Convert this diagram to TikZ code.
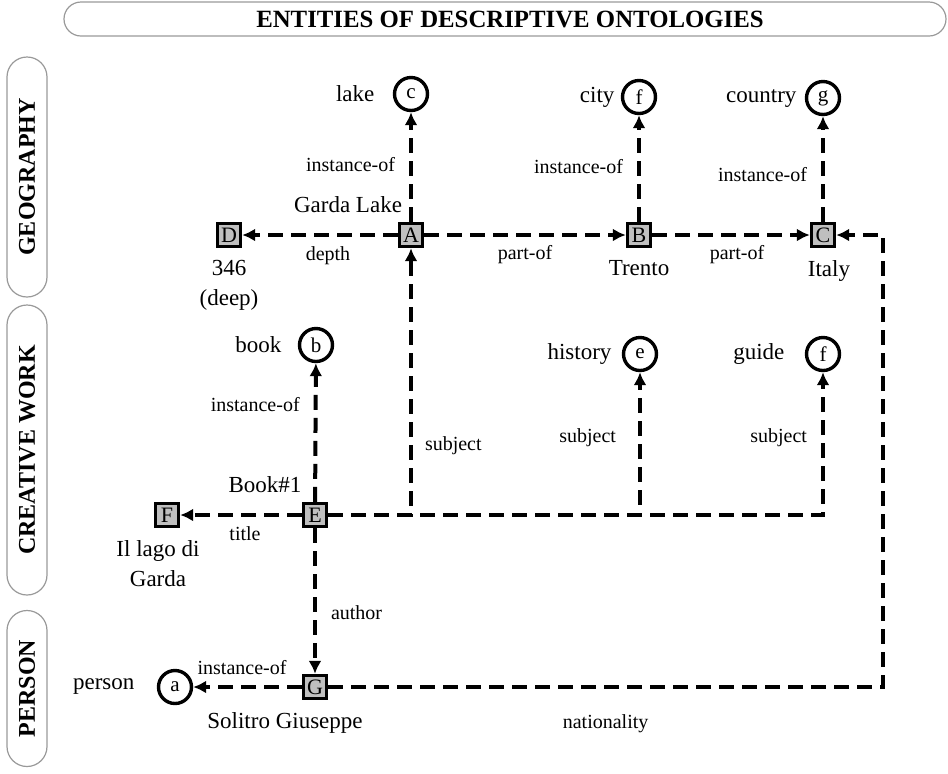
\documentclass[tikz,border=0pt]{standalone}
\usepackage{fontspec}
\setmainfont{Liberation Serif}
\usetikzlibrary{%
        arrows.meta,
        positioning,
    }
\tikzset{%
    entity/.style={%
        draw,
        line width=1.7pt,
        fill=gray!50,
        minimum size=11.5pt,
        inner sep=0pt,
        font=\fontsize{11}{11}\selectfont,
    },
    concept/.style={%
        draw,
        circle,
        line width=1.7pt,
        minimum size=16.5pt,
        inner sep=0pt,
        font=\fontsize{10.5}{10.5}\selectfont,
    },
    entname/.style={%
        align=center,
        inner sep=1pt,
        font=\fontsize{11.5}{15}\selectfont,
    },
    relname/.style={%
        inner sep=1pt,
        font=\fontsize{10}{10}\selectfont,
    },
    rel/.style={%
        line width=2pt,
        dash pattern=on 7.5pt off 4pt,
        -{Latex[length=6.5pt, width=6.5pt]},
    },
    lane/.style={%
        draw=gray!80,
        line width=0.6pt,
        rotate=90,
        rounded corners=10pt,
        minimum height=20pt,
        font=\bfseries\fontsize{12}{12}\selectfont,
    },
}

\begin{document}
\begin{tikzpicture}[x=0.5pt, y=-0.5pt]

    \useasboundingbox (0, 0) rectangle (948, 773);

    %%%%%%%%%%
    % Lanes  %
    %%%%%%%%%%
    \node[%
        draw=gray!80,
        line width=0.6pt,
        rounded corners=8.5pt,
        minimum width=441pt,
        minimum height=17pt,
        font=\bfseries\fontsize{12.4}{12.4}\selectfont,
    ] (banner) at (505, 19) {};
    \node[font=\bfseries\fontsize{12.4}{12.4}\selectfont]
        (banner-title) at (510, 19) {ENTITIES OF DESCRIPTIVE ONTOLOGIES};

    \node[lane, minimum width=120pt] (geography) at (27, 177) {GEOGRAPHY};
    \node[lane, minimum width=145pt] (creative) at (27, 450) {CREATIVE WORK};
    \node[lane, minimum width=78pt] (person) at (27, 688.5) {PERSON};

    %%%%%%%%%%%%%
    % Geography %
    %%%%%%%%%%%%%
    \node[concept] (lake) at (411, 94) {c};
    \node[concept] (city) at (639, 97) {f};
    \node[concept] (country) at (823, 98) {g};
    \node[entname, left=8pt of lake] (lake-name) {lake};
    \node[entname, left=2pt of city] (city-name) {city};
    \node[entname, left=3pt of country] (country-name) {country};

    \node[entity] (A) at (411, 235) {A};
    \node[entity] (B) at (639, 235) {B};
    \node[entity] (C) at (823, 235) {C};
    \node[entity] (D) at (229, 235) {D};

    \node[entname] (A-name) at ([xshift=-31.5pt, yshift=15pt] A) {Garda Lake};
    \node[entname, below=5pt of D] (D-name) {346\\(deep)};
    \node[entname, below=5pt of B] (B-name) {Trento};
    \node[entname, below=5pt of C, xshift=3pt] (C-name) {Italy};

    \draw[rel] (A) -- (lake)
        node[relname, pos=0.52, left=6pt] (A-lake) {instance-of};
    \draw[rel] (B) -- (city)
        node[relname, pos=0.52, left=6pt] (B-city) {instance-of};
    \draw[rel] (C) -- (country)
        node[relname, pos=0.45, left=6pt] (C-country) {instance-of};
    \draw[rel] (A) -- (D)
        node[relname, midway, below=4pt, xshift=4pt] (A-D) {depth};
    \draw[rel] (A) -- (B)
        node[relname, midway, below=3pt] (A-B) {part-of};
    \draw[rel] (B) -- (C)
        node[relname, midway, below=3pt, xshift=3pt] (B-C) {part-of};

    %%%%%%%%%%%%%%%%%
    % Creative work %
    %%%%%%%%%%%%%%%%%
    \node[concept] (book) at (316, 345) {b};
    \node[concept] (history) at (640, 354) {e};
    \node[concept] (guide) at (823, 354) {f};
    \node[entname, left=7pt of book] (book-name) {book};
    \node[entname, left=4pt of history] (history-name) {history};
    \node[entname, left=9pt of guide] (guide-name) {guide};

    \node[entity] (E) at (315, 515) {E};
    \node[entity] (F) at (167, 515) {F};
    \node[entname] (E-name) at ([xshift=-25pt, yshift=15pt] E) {Book\#1};
    \node[entname, below=5pt of F, xshift=-4.5pt] (F-name) {Il lago di\\Garda};

    \draw[rel] (E) -- (book)
        node[relname, pos=0.7, left=6pt] (E-book) {instance-of};
    \draw[rel] (E) -- (F)
        node[relname, midway, below=4pt, xshift=2pt] (E-F) {title};
    \draw[rel] (E) -| (A)
        node[relname, pos=0.63, right=5pt] (E-A) {subject};
    \draw[rel] (E) -| (history)
        node[relname, pos=0.77, left=10pt] (E-history) {subject};
    \draw[rel] (E) -| (guide)
        node[relname, pos=0.77, left=6pt] (E-guide) {subject};

    %%%%%%%%%%
    % Person %
    %%%%%%%%%%
    \node[concept] (personclass) at (175, 687) {a};
    \node[entname, left=10pt of personclass] (person-name) {person};
    \node[entity] (G) at (315, 687) {G};
    \node[entname, below=5pt of G, xshift=-15pt] (G-name) {Solitro Giuseppe};
    \coordinate (nat-corner) at (883, 687);

    \draw[rel] (E) -- (G)
        node[relname, pos=0.58, right=6pt] (E-G) {author};
    \draw[rel] (G) -- (personclass)
        node[relname, pos=0.55, above=4pt] (G-person) {instance-of};
    \draw[rel] (G)
        -- node[relname, pos=0.5, below=12pt] (G-C) {nationality} (nat-corner)
        |- (C);

\end{tikzpicture}
\end{document}
